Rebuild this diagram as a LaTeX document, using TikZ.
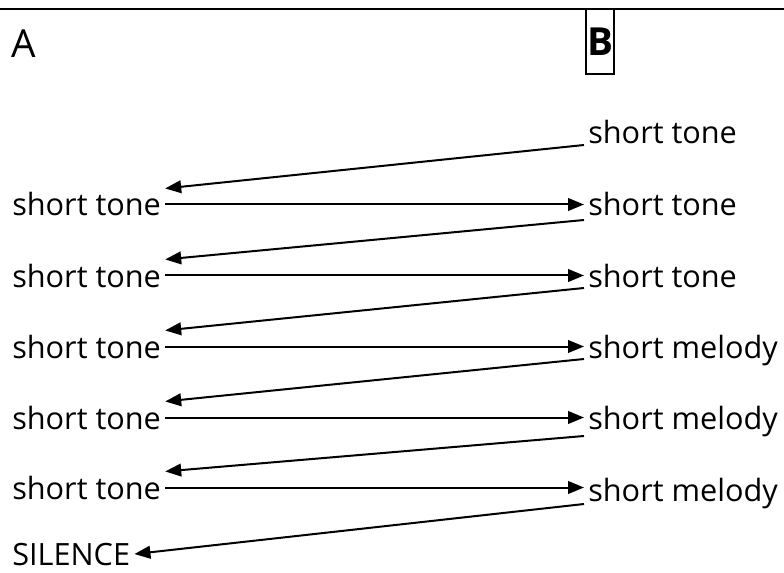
\documentclass[tikz,border=0pt]{standalone}
\usepackage{fontspec}
\setmainfont{Open Sans}
\usetikzlibrary{arrows.meta,calc}

\begin{document}
\begin{tikzpicture}[x=0.75pt,y=0.75pt,yscale=-1,xscale=1,
  txt/.style={anchor=base west,inner sep=3pt,font=\fontsize{23}{27}\selectfont},
  hdr/.style={font=\fontsize{29}{34}\selectfont},
  link/.style={line width=1.5pt,-{Triangle[length=12pt,width=9.5pt]}}]
\useasboundingbox (0,0) rectangle (784,573);

%Straight Lines (top rule)
\draw [line width=1.8pt] (0,9) -- (784,9);

% Text Node
\node [hdr,anchor=base west,inner sep=0pt] (A) at (11,58) {A};
% Text Node
\node [hdr,draw,line width=1.5pt,minimum height=48.75pt,inner xsep=0.8pt,inner ysep=0pt] (B) at (600,41.5) {\bfseries B};

% Text Node
\node [txt] (r0) at (584,144) {short tone};
% Text Node
\node [txt] (l1) at (8,216) {short tone};
\node [txt] (r1) at (584,216) {short tone};
% Text Node
\node [txt] (l2) at (8,287) {short tone};
\node [txt] (r2) at (584,287) {short tone};
% Text Node
\node [txt] (l3) at (8,358) {short tone};
\node [txt] (r3) at (584,358) {short melody};
% Text Node
\node [txt] (l4) at (8,429) {short tone};
\node [txt] (r4) at (584,429) {short melody};
% Text Node
\node [txt] (l5) at (8,499) {short tone};
\node [txt] (r5) at (584,501) {short melody};
% Text Node
\node [txt,inner ysep=1pt] (l6) at (8,565) {SILENCE};

%Straight Lines
\draw [link] ($(r0.base west)+(0,1)$) -- (l1.north east);
\draw [link] (l1.east) -- (l1.east -| r1.west);
%Straight Lines
\draw [link] ($(r1.base west)+(0,4)$) -- (l2.north east);
\draw [link] (l2.east) -- (l2.east -| r2.west);
%Straight Lines
\draw [link] ($(r2.base west)+(0,1)$) -- (l3.north east);
\draw [link] (l3.east) -- (l3.east -| r3.west);
%Straight Lines
\draw [link] ($(r3.base west)+(0,1)$) -- (l4.north east);
\draw [link] (l4.east) -- (l4.east -| r4.west);
%Straight Lines
\draw [link] ($(r4.base west)+(0,7)$) -- (l5.north east);
\draw [link] (l5.east) -- (l5.east -| r5.west);
%Straight Lines
\draw [link] ($(r5.base west)+(0,3)$) -- (l6.east);

\end{tikzpicture}
\end{document}
